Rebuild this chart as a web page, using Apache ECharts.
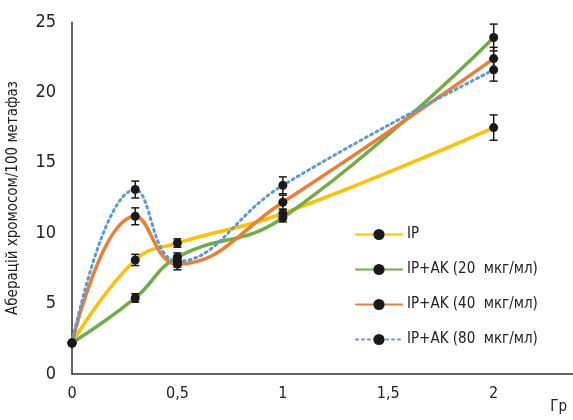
<!DOCTYPE html>
<html>
<head>
<meta charset="utf-8">
<script src="https://cdn.jsdelivr.net/npm/echarts@6/dist/echarts.min.js"></script>
<style>
  html, body { margin: 0; padding: 0; background: #fff; }
  #chart { width: 573px; height: 420px; }
</style>
</head>
<body>
<div id="chart"></div>
<script>
// дози, Гр
const doses = [0, 0.3, 0.5, 1, 2]
const seriesNames = ['IP', 'IP+AK (20  мкг/мл)', 'IP+AK (40  мкг/мл)', 'IP+AK (80  мкг/мл)']
const ipValues = [2.2, 8.1, 9.3, 11.4, 17.5]
const ak20Values = [2.2, 5.4, 8.3, 11.1, 23.9]
const ak40Values = [2.2, 11.2, 7.8, 12.2, 22.4]
const ak80Values = [2.2, 13.1, 8.0, 13.4, 21.6]
const ipErr = [0, 0.4, 0.3, 0.3, 0.9]
const ak20Err = [0, 0.3, 0.3, 0.3, 0.95]
const ak40Err = [0, 0.6, 0.4, 0.5, 0.8]
const ak80Err = [0, 0.6, 0.4, 0.6, 0.8]
const colors = ['#ffc000', '#70ad47', '#ed7d31', '#5b9bd5']

const font = '"DejaVu Sans Condensed", "Liberation Sans Narrow", sans-serif'
const allValues = [ipValues, ak20Values, ak40Values, ak80Values]
const allErr = [ipErr, ak20Err, ak40Err, ak80Err]

const chart = echarts.init(document.getElementById('chart'))

const lineSeries = seriesNames.map((name, i) => ({
  name: name,
  type: 'line',
  smooth: 0.45,
  data: doses.map((d, j) => [d, allValues[i][j]]),
  symbol: 'circle',
  symbolSize: 9,
  itemStyle: { color: '#1a1a1a' },
  lineStyle: {
    color: colors[i],
    width: i === 3 ? 3 : 3.5,
    type: i === 3 ? [2, 4] : 'solid',
    cap: 'round'
  },
  z: 3
}))

// планки похибок
const errSeries = seriesNames.map((name, i) => ({
  type: 'custom',
  silent: true,
  z: 4,
  data: doses.map((d, j) => [d, allValues[i][j] - allErr[i][j], allValues[i][j] + allErr[i][j]])
    .filter((v, j) => allErr[i][j] > 0),
  renderItem: (params, api) => {
    const lo = api.coord([api.value(0), api.value(1)])
    const hi = api.coord([api.value(0), api.value(2)])
    const w = 4
    const style = { stroke: '#1a1a1a', lineWidth: 1.5 }
    return {
      type: 'group',
      children: [
        { type: 'line', shape: { x1: lo[0], y1: lo[1], x2: hi[0], y2: hi[1] }, style },
        { type: 'line', shape: { x1: lo[0] - w, y1: lo[1], x2: lo[0] + w, y2: lo[1] }, style },
        { type: 'line', shape: { x1: hi[0] - w, y1: hi[1], x2: hi[0] + w, y2: hi[1] }, style }
      ]
    }
  }
}))

chart.setOption({
  animation: false,
  textStyle: { fontFamily: font },
  grid: { left: 72, right: -5, top: 22, bottom: 46, outerBoundsMode: 'none' },
  legend: {
    orient: 'vertical',
    left: 350,
    top: 222,
    itemGap: 20,
    itemWidth: 46,
    itemHeight: 14,
    data: seriesNames,
    textStyle: { fontSize: 15, color: '#222', fontFamily: font }
  },
  xAxis: {
    type: 'value',
    min: 0,
    max: 2.4,
    interval: 0.5,
    name: 'Гр',
    nameLocation: 'end',
    nameGap: -11,
    nameTextStyle: { fontSize: 15, color: '#222', align: 'right', verticalAlign: 'top', padding: [26, 0, 0, 0] },
    axisLine: { lineStyle: { color: '#333', width: 1.5 } },
    axisTick: { show: false },
    splitLine: { show: false },
    axisLabel: {
      fontSize: 16,
      color: '#222',
      margin: 12,
      formatter: v => (Math.abs(v * 2 - Math.round(v * 2)) < 1e-6 ? String(v).replace('.', ',') : '')
    }
  },
  yAxis: {
    type: 'value',
    min: 0,
    max: 25,
    interval: 5,
    name: 'Аберацій хромосом/100 метафаз',
    nameLocation: 'middle',
    nameGap: 51,
    nameTextStyle: { fontSize: 15, color: '#222' },
    axisLine: { show: true, lineStyle: { color: '#333', width: 1.5 } },
    axisTick: { show: false },
    splitLine: { show: false },
    axisLabel: { fontSize: 18, color: '#222', margin: 16 }
  },
  series: lineSeries.concat(errSeries)
})
</script>
</body>
</html>
